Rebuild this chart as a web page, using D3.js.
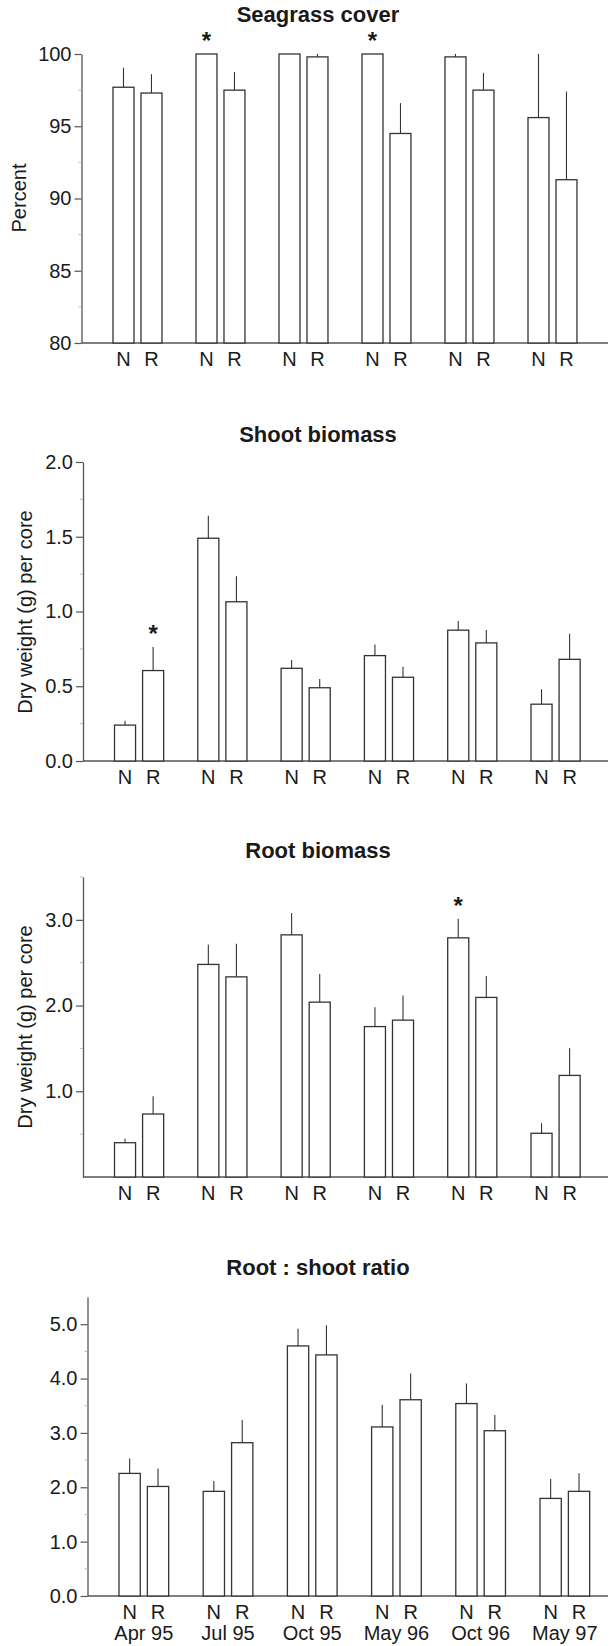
<!DOCTYPE html>
<html>
<head>
<meta charset="utf-8">
<script src="https://cdn.jsdelivr.net/npm/d3@7"></script>
<style>
  body { margin: 0; background: #fff; }
  svg text { font-family: "Liberation Sans", Arial, sans-serif; fill: #1a1a1a; }
</style>
</head>
<body>
<svg id="fig" width="610" height="1646"></svg>
<script>
// sampling dates and treatments (N = natural, R = restored)
const months = ["Apr 95", "Jul 95", "Oct 95", "May 96", "Oct 96", "May 97"];
const treatments = ["N", "R"];

// seagrass cover (%), mean and SE
const coverN   = [97.7, 100, 100, 100, 99.8, 95.6];
const coverNse = [1.35, 0, 0, 0, 0.2, 4.4];
const coverR   = [97.3, 97.5, 99.8, 94.5, 97.5, 91.3];
const coverRse = [1.3, 1.25, 0.2, 2.1, 1.2, 6.1];
const coverStars = [["Jul 95", "N"], ["May 96", "N"]];

// shoot biomass, dry weight (g) per core
const shootN   = [0.24, 1.49, 0.62, 0.705, 0.875, 0.38];
const shootNse = [0.03, 0.15, 0.056, 0.075, 0.062, 0.10];
const shootR   = [0.605, 1.065, 0.49, 0.56, 0.79, 0.68];
const shootRse = [0.157, 0.17, 0.058, 0.07, 0.086, 0.172];
const shootStars = [["Apr 95", "R"]];

// root biomass, dry weight (g) per core
const rootN   = [0.40, 2.48, 2.825, 1.755, 2.79, 0.51];
const rootNse = [0.047, 0.23, 0.254, 0.226, 0.222, 0.117];
const rootR   = [0.735, 2.335, 2.04, 1.83, 2.095, 1.185];
const rootRse = [0.207, 0.386, 0.328, 0.288, 0.25, 0.316];
const rootStars = [["Oct 96", "N"]];

// root : shoot ratio
const ratioN   = [2.255, 1.925, 4.60, 3.11, 3.54, 1.795];
const ratioNse = [0.275, 0.19, 0.318, 0.41, 0.367, 0.356];
const ratioR   = [2.015, 2.82, 4.435, 3.61, 3.04, 1.925];
const ratioRse = [0.332, 0.416, 0.546, 0.484, 0.288, 0.331];
const ratioStars = [];

// tick values
const coverTicks = [80, 85, 90, 95, 100];
const coverMinor = [82.5, 87.5, 92.5, 97.5];
const shootTicks = [0, 0.5, 1, 1.5, 2];
const shootMinor = [0.25, 0.75, 1.25, 1.75];
const rootTicks = [1, 2, 3];
const rootMinor = [0.5, 1.5, 2.5, 3.5];
const ratioTicks = [0, 1, 2, 3, 4, 5];
const ratioMinor = [0.5, 1.5, 2.5, 3.5, 4.5];

const panels = [
  { title: "Seagrass cover", ylab: "Percent", n: coverN, nse: coverNse, r: coverR, rse: coverRse,
    stars: coverStars, domain: [80, 100], ticks: coverTicks, minor: coverMinor, fmt: d3.format("d"),
    base: 343, top: 54, titleY: 22, axisX: 81.5, firstBar: 113, step: 83, ylabX: 26, ylabY: 198 },
  { title: "Shoot biomass", ylab: "Dry weight (g) per core", n: shootN, nse: shootNse, r: shootR, rse: shootRse,
    stars: shootStars, domain: [0, 2], ticks: shootTicks, minor: shootMinor, fmt: d3.format(".1f"),
    base: 761, top: 462, titleY: 442, axisX: 83, firstBar: 114.5, step: 83.3, ylabX: 32, ylabY: 612 },
  { title: "Root biomass", ylab: "Dry weight (g) per core", n: rootN, nse: rootNse, r: rootR, rse: rootRse,
    stars: rootStars, domain: [0, 3.5], ticks: rootTicks, minor: rootMinor, fmt: d3.format(".1f"),
    base: 1177, top: 877, titleY: 858, axisX: 83, firstBar: 114.5, step: 83.3, ylabX: 32, ylabY: 1027 },
  { title: "Root : shoot ratio", ylab: null, n: ratioN, nse: ratioNse, r: ratioR, rse: ratioRse,
    stars: ratioStars, domain: [0, 5.5], ticks: ratioTicks, minor: ratioMinor, fmt: d3.format(".1f"),
    base: 1596, top: 1297, titleY: 1275, axisX: 87.5, firstBar: 119, step: 84.2, ylabX: null, ylabY: null,
    monthLabels: true }
];

const svg = d3.select("#fig");
const pad = 0.41;

panels.forEach(function (p) {
  const g = svg.append("g");

  const y = d3.scaleLinear().domain(p.domain).range([p.base, p.top]);
  const x = d3.scaleBand()
    .domain(months)
    .range([p.firstBar - p.step * pad / 2, p.firstBar - p.step * pad / 2 + months.length * p.step])
    .paddingInner(pad)
    .paddingOuter(pad / 2);
  const xi = d3.scaleBand().domain(treatments).range([0, x.bandwidth()]).paddingInner(0.25);

  const rows = [];
  months.forEach(function (m, i) {
    rows.push({ m: m, t: "N", v: p.n[i], e: p.nse[i] });
    rows.push({ m: m, t: "R", v: p.r[i], e: p.rse[i] });
  });
  const cx = d => x(d.m) + xi(d.t) + xi.bandwidth() / 2;

  // title
  g.append("text")
    .attr("x", 318).attr("y", p.titleY)
    .attr("text-anchor", "middle")
    .style("font-size", "22px").style("font-weight", "bold")
    .text(p.title);

  // x baseline
  g.append("line")
    .attr("x1", p.axisX).attr("x2", 608)
    .attr("y1", y(p.domain[0])).attr("y2", y(p.domain[0]))
    .attr("stroke", "#555").attr("stroke-width", 1.3);

  // error bars (upper only)
  g.selectAll(".err").data(rows.filter(d => d.e > 0)).enter()
    .append("line")
    .attr("x1", cx).attr("x2", cx)
    .attr("y1", d => y(d.v)).attr("y2", d => y(d.v + d.e))
    .attr("stroke", "#333").attr("stroke-width", 1.1);

  // bars
  g.selectAll(".bar").data(rows).enter()
    .append("rect")
    .attr("x", d => x(d.m) + xi(d.t))
    .attr("width", xi.bandwidth())
    .attr("y", d => y(d.v))
    .attr("height", d => y(p.domain[0]) - y(d.v))
    .attr("fill", "#fff").attr("stroke", "#333").attr("stroke-width", 1.3);

  // y axis
  const ax = g.append("g")
    .attr("transform", "translate(" + p.axisX + ",0)")
    .call(d3.axisLeft(y).tickValues(p.ticks).tickSize(7).tickSizeOuter(0).tickPadding(3).tickFormat(p.fmt));
  ax.select(".domain").attr("stroke", "#555").attr("stroke-width", 1.3);
  ax.selectAll(".tick line").attr("stroke", "#555").attr("stroke-width", 1.2);
  ax.selectAll(".tick text").style("font-size", "20px").attr("fill", "#1a1a1a")
    .style("font-family", "'Liberation Sans', Arial, sans-serif");

  // minor ticks
  g.selectAll(".minor").data(p.minor).enter()
    .append("line")
    .attr("x1", p.axisX - 3).attr("x2", p.axisX)
    .attr("y1", d => y(d)).attr("y2", d => y(d))
    .attr("stroke", "#bbb").attr("stroke-width", 1);

  // N / R labels
  g.selectAll(".tl").data(rows).enter()
    .append("text")
    .attr("x", cx)
    .attr("y", y(p.domain[0]) + 23)
    .attr("text-anchor", "middle")
    .style("font-size", "20px")
    .text(d => d.t);

  if (p.monthLabels) {
    g.selectAll(".ml").data(months).enter()
      .append("text")
      .attr("x", d => x(d) + x.bandwidth() / 2)
      .attr("y", y(p.domain[0]) + 44)
      .attr("text-anchor", "middle")
      .style("font-size", "20px")
      .text(d => d);
  }

  // y label
  if (p.ylab) {
    g.append("text")
      .attr("transform", "translate(" + p.ylabX + "," + p.ylabY + ") rotate(-90)")
      .attr("text-anchor", "middle")
      .style("font-size", "20px")
      .text(p.ylab);
  }

  // significance stars
  const starRows = rows.filter(d => p.stars.some(s => s[0] === d.m && s[1] === d.t));
  g.selectAll(".star").data(starRows).enter()
    .append("text")
    .attr("x", cx)
    .attr("y", d => y(Math.min(p.domain[1], d.v + d.e)) - 5)
    .attr("text-anchor", "middle")
    .style("font-size", "24px").style("font-weight", "bold")
    .text("*");
});
</script>
</body>
</html>
